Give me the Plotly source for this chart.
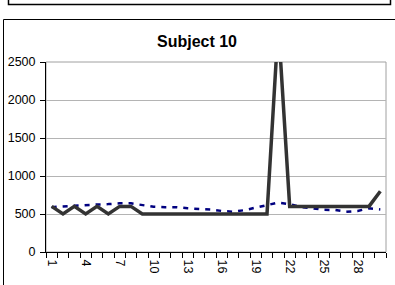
import plotly.graph_objects as go

categories = list(range(1, 31))
subject_values = [600, 500, 600, 500, 600, 500, 600, 600, 500, 500,
                  500, 500, 500, 500, 500, 500, 500, 500, 500, 500,
                  3000, 600, 600, 600, 600, 600, 600, 600, 600, 800]
reference_values = [590, 600, 610, 620, 625, 630, 640, 640, 620, 595,
                    590, 590, 575, 565, 560, 540, 530, 550, 585, 610,
                    650, 630, 590, 575, 555, 553, 530, 540, 575, 560]
tick_labels = ["1", "4", "7", "10", "13", "16", "19", "22", "25", "28"]
tick_positions = [1, 4, 7, 10, 13, 16, 19, 22, 25, 28]
title_text = "Subject 10"

W, H = 395, 285
L, R, T, B = 46, 386, 62, 252
pw, ph = R - L, B - T

def px(x):
    return (x - L) / pw

def py(y):
    return (B - y) / ph

fig = go.Figure()
fig.add_trace(go.Scatter(x=categories, y=reference_values, mode="lines",
                         line=dict(color="#000080", width=2.5, dash="5px,6px"),
                         showlegend=False, hoverinfo="skip"))
fig.add_trace(go.Scatter(x=categories, y=subject_values, mode="lines",
                         line=dict(color="#333333", width=3.5),
                         showlegend=False, hoverinfo="skip"))

font_family = "Arial, Liberation Sans, sans-serif"

fig.update_layout(
    width=W, height=H,
    margin=dict(l=L, r=W - R, t=T, b=H - B, pad=0, autoexpand=False),
    paper_bgcolor="white", plot_bgcolor="white",
    font=dict(family=font_family, size=12, color="black"),
    title=dict(text="<b>" + title_text + "</b>", xref="container", x=197 / W,
               xanchor="center", yref="container", y=1 - 41 / H, yanchor="middle",
               font=dict(family=font_family, size=16, color="black")),
    xaxis=dict(range=[0.5, 30.5], tickmode="array", tickvals=tick_positions,
               ticktext=tick_labels, tickangle=90, ticks="", showgrid=False,
               zeroline=False, showline=True, linecolor="black", linewidth=1,
               automargin=False, tickfont=dict(size=12.5), ticklabelstandoff=4,
               minor=dict(tick0=0.5, dtick=1, ticks="outside", ticklen=5,
                          tickcolor="black", tickwidth=1, showgrid=False)),
    yaxis=dict(range=[0, 2500], dtick=500, ticks="outside", ticklen=5,
               tickcolor="black", showgrid=True, gridcolor="#b4b4b4", gridwidth=1,
               zeroline=False, showline=True, linecolor="black", linewidth=1,
               automargin=False, tickfont=dict(size=12.5), ticklabelstandoff=2),
    shapes=[
        dict(type="rect", xref="paper", yref="paper", x0=0, x1=1, y0=0, y1=1,
             line=dict(color="#a0a0a0", width=1), layer="below"),
        dict(type="rect", xref="paper", yref="paper", x0=px(3.5), x1=px(400),
             y0=py(300), y1=py(19.5), line=dict(color="black", width=1),
             layer="above"),
        dict(type="rect", xref="paper", yref="paper", x0=px(8.5), x1=px(390.5),
             y0=py(4.5), y1=py(-10), line=dict(color="black", width=1.5),
             layer="above"),
    ],
)

fig.write_html("out.html", config={"displayModeBar": False},
               post_script="document.body.style.margin='0';")
